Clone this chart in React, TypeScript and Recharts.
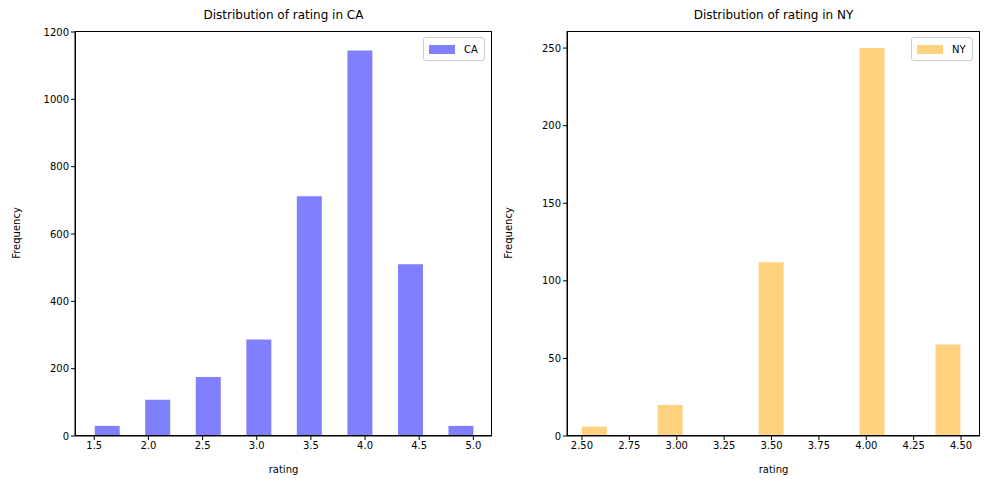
import React from "react";
import { ComposedChart, Bar, XAxis, YAxis } from "recharts";

const caBins = [1.617, 2.083, 2.55, 3.017, 3.483, 3.95, 4.417, 4.883];
const caCounts = [30, 108, 175, 287, 712, 1145, 510, 30];
const caTicks = [1.5, 2.0, 2.5, 3.0, 3.5, 4.0, 4.5, 5.0];
const caYTicks = [0, 200, 400, 600, 800, 1000, 1200];

const nyBins = [2.567, 2.967, 3.5, 4.033, 4.433];
const nyCounts = [6, 20, 112, 250, 59];
const nyTicks = [2.5, 2.75, 3.0, 3.25, 3.5, 3.75, 4.0, 4.25, 4.5];
const nyYTicks = [0, 50, 100, 150, 200, 250];

const font = "DejaVu Sans, sans-serif";
const tickStyle = { fontSize: 10, fill: "#000", fontFamily: font };

function Panel(props: any) {
  const { left, width, plotL, plotR, data, xDomain, xTicks, yDomain, yTicks, fill, title, name, fmt, legendW } = props;
  const top = 31, bottom = 436, H = 490;
  return (
    <div style={{ position: "absolute", left, top: 0, width, height: H, fontFamily: font }}>
      <ComposedChart width={width} height={H} data={data}
        margin={{ top, bottom: H - bottom - 30, left: plotL - 60, right: width - plotR }}>
        <XAxis type="number" dataKey="x" domain={xDomain} ticks={xTicks} allowDataOverflow
          tickFormatter={fmt} tick={tickStyle} tickSize={4} axisLine={{ stroke: "#000" }}
          tickLine={{ stroke: "#000" }} height={30} interval={0} />
        <YAxis type="number" domain={yDomain} ticks={yTicks} allowDataOverflow tick={tickStyle}
          tickSize={4} width={60} axisLine={{ stroke: "#000" }} tickLine={{ stroke: "#000" }} interval={0} />
        <Bar dataKey="y" fill={fill} barSize={25} isAnimationActive={false} />
      </ComposedChart>
      <div style={{ position: "absolute", left: plotL, top, width: plotR - plotL, height: bottom - top,
        border: "1px solid #000", boxSizing: "border-box", pointerEvents: "none" }} />
      <div style={{ position: "absolute", left: plotL, width: plotR - plotL, top: 8, textAlign: "center", fontSize: 12 }}>{title}</div>
      <div style={{ position: "absolute", left: plotL, width: plotR - plotL, top: 464, textAlign: "center", fontSize: 10 }}>rating</div>
      <div style={{ position: "absolute", left: plotL - 90, top: 226, width: 120, textAlign: "center", fontSize: 10,
        transform: "rotate(-90deg)", transformOrigin: "50% 50%", height: 14, lineHeight: "14px", marginLeft: -28 }}>Frequency</div>
      <div style={{ position: "absolute", left: plotR - legendW - 7, top: 37, width: legendW, height: 24,
        border: "1px solid #ccc", borderRadius: 3, background: "#fff", boxSizing: "border-box",
        display: "flex", alignItems: "center", fontSize: 10 }}>
        <span style={{ display: "inline-block", width: 26, height: 9, background: fill, marginLeft: 5, marginRight: 9 }} />
        <span>{name}</span>
      </div>
    </div>
  );
}

export default function App() {
  const caData = caBins.map((x, i) => ({ x, y: caCounts[i] }));
  const nyData = nyBins.map((x, i) => ({ x, y: nyCounts[i] }));
  return (
    <div style={{ position: "fixed", left: 0, top: 0, width: 990, height: 490, background: "#fff" }}>
      <Panel left={0} width={495} plotL={75} plotR={492} data={caData} xDomain={[1.322, 5.172]}
        xTicks={caTicks} yDomain={[0, 1203]} yTicks={caYTicks} fill="#8080ff"
        title="Distribution of rating in CA" name="CA" fmt={(v: number) => v.toFixed(1)} legendW={62} />
      <Panel left={495} width={495} plotL={72} plotR={485} data={nyData} xDomain={[2.421, 4.6]}
        xTicks={nyTicks} yDomain={[0, 261]} yTicks={nyYTicks} fill="#ffd280"
        title="Distribution of rating in NY" name="NY" fmt={(v: number) => v.toFixed(2)} legendW={62} />
    </div>
  );
}
